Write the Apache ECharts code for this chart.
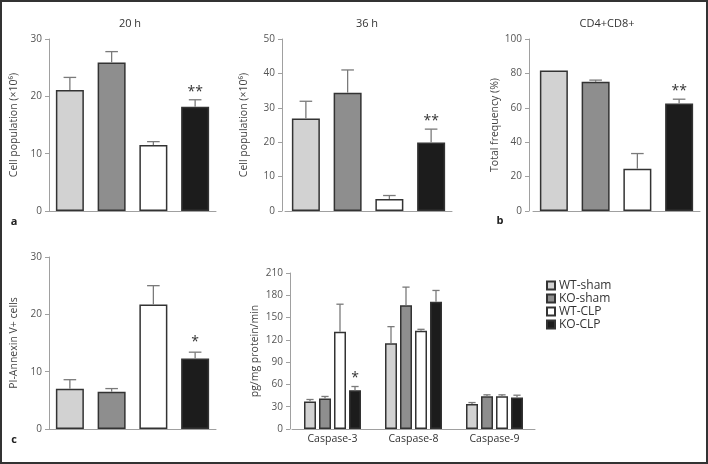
<!DOCTYPE html>
<html>
<head>
<meta charset="utf-8">
<script src="https://cdn.jsdelivr.net/npm/echarts@6/dist/echarts.min.js"></script>
<style>
html,body{margin:0;padding:0;background:#fff;}
#c{width:708px;height:464px;}
</style>
</head>
<body>
<div id="c"></div>
<script>
// ---------- data ----------
const groupNames = ['WT-sham', 'KO-sham', 'WT-CLP', 'KO-CLP'];

const pop20hMean = [21.1, 25.9, 11.5, 18.2];
const pop20hErr  = [2.2, 1.9, 0.6, 1.2];
const pop20hSig  = ['', '', '', '**'];

const pop36hMean = [26.9, 34.4, 3.5, 19.9];
const pop36hErr  = [5.0, 6.6, 1.0, 3.9];
const pop36hSig  = ['', '', '', '**'];

const cd4cd8Mean = [81.7, 75.1, 24.6, 62.5];
const cd4cd8Err  = [0, 1.0, 8.8, 2.5];
const cd4cd8Sig  = ['', '', '', '**'];

const annexinMean = [7.0, 6.5, 21.7, 12.3];
const annexinErr  = [1.6, 0.55, 3.3, 1.1];
const annexinSig  = ['', '', '', '*'];

const caspaseCats = ['Caspase-3', 'Caspase-8', 'Caspase-9'];
const caspWTshamMean = [37, 115.3, 33.8];
const caspWTshamErr  = [2.7, 22.5, 1.8];
const caspKOshamMean = [41, 166.7, 44];
const caspKOshamErr  = [2.8, 24.3, 2.0];
const caspWTclpMean  = [131, 132.2, 44];
const caspWTclpErr   = [37, 2.0, 2.0];
const caspKOclpMean  = [52.3, 171.3, 42.3];
const caspKOclpErr   = [4.9, 15.2, 3.2];
const caspKOclpSig   = ['*', '', ''];

// ---------- styles ----------
const FONT = 'Open Sans';
const groupColors = ['#d2d2d2', '#8e8e8e', '#ffffff', '#1c1c1c'];
const barBorder = '#333333';
const errColor = '#7a7a7a';
const axisColor = '#a0a0a0';

function errRender(sigs, capW, seriesOffset, sigGap) {
  return function (params, api) {
    const ci = api.value(0), m = api.value(1), e = api.value(2);
    const base = api.coord([ci, m]);
    const top = api.coord([ci, m + e]);
    const x = base[0] + seriesOffset;
    const children = [];
    if (e > 0) {
      children.push({type: 'line', shape: {x1: x, y1: base[1], x2: x, y2: top[1]},
        style: {stroke: errColor, lineWidth: 1.3}});
      children.push({type: 'line', shape: {x1: x - capW / 2, y1: top[1], x2: x + capW / 2, y2: top[1]},
        style: {stroke: errColor, lineWidth: 1.3}});
    }
    const s = sigs ? sigs[params.dataIndex] : '';
    if (s) {
      children.push({type: 'text', style: {text: s, x: x, y: top[1] - sigGap,
        align: 'center', verticalAlign: 'middle', fill: '#333', font: '14px "' + FONT + '"'}});
    }
    return {type: 'group', children: children};
  };
}

const grids = [], xAxes = [], yAxes = [], series = [];

function yAxisCfg(gi, max, interval, name, nameGap, offset) {
  return {
    type: 'value', gridIndex: gi, min: 0, max: max, interval: interval, offset: offset,
    name: name, nameLocation: 'middle', nameGap: nameGap,
    nameTextStyle: {fontFamily: FONT, fontSize: 10.5, color: '#444'},
    axisLine: {show: true, lineStyle: {color: axisColor, width: 1}},
    axisTick: {show: true, length: 4, lineStyle: {color: axisColor}},
    axisLabel: {fontFamily: FONT, fontSize: 10, color: '#555', margin: 7},
    splitLine: {show: false}
  };
}

function addSinglePanel(gridCfg, max, interval, name, nameGap, offset, means, errs, sigs, sigGap) {
  const gi = grids.length;
  grids.push(Object.assign({outerBoundsMode: 'none', containLabel: false}, gridCfg));
  xAxes.push({type: 'category', gridIndex: gi, data: groupNames,
    axisLine: {show: true, lineStyle: {color: axisColor, width: 1}},
    axisTick: {show: false}, axisLabel: {show: false}});
  yAxes.push(yAxisCfg(gi, max, interval, name, nameGap, offset));
  series.push({type: 'bar', name: 'panel' + gi, xAxisIndex: gi, yAxisIndex: gi,
    barWidth: 28, silent: true,
    data: means.map((v, i) => ({value: v, itemStyle: {color: groupColors[i]}})),
    itemStyle: {borderColor: barBorder, borderWidth: 1.5}});
  series.push({type: 'custom', xAxisIndex: gi, yAxisIndex: gi, silent: true, z: 3,
    renderItem: errRender(sigs, 12.6, 0, sigGap),
    data: means.map((v, i) => [i, v, errs[i]])});
}

addSinglePanel({left: 49, top: 39, width: 167, height: 172}, 30, 10,
  'Cell population (×10⁶)', 29, 0, pop20hMean, pop20hErr, pop20hSig, 8);
addSinglePanel({left: 285, top: 39, width: 167, height: 172}, 50, 10,
  'Cell population (×10⁶)', 32, 3, pop36hMean, pop36hErr, pop36hSig, 8);
addSinglePanel({left: 533, top: 39, width: 167, height: 172}, 100, 20,
  'Total frequency (%)', 27, 4, cd4cd8Mean, cd4cd8Err, cd4cd8Sig, 8);
addSinglePanel({left: 49, top: 257, width: 167, height: 172}, 30, 10,
  'PI-Annexin V+ cells', 29, 0, annexinMean, annexinErr, annexinSig, 10);

// caspase panel
const cgi = grids.length;
grids.push({left: 292, top: 273, width: 243, height: 156, outerBoundsMode: 'none', containLabel: false});
xAxes.push({type: 'category', gridIndex: cgi, data: caspaseCats,
  axisLine: {show: true, lineStyle: {color: axisColor, width: 1}},
  axisTick: {show: false},
  axisLabel: {fontFamily: FONT, fontSize: 10.5, color: '#333', margin: 5}});
yAxes.push(yAxisCfg(cgi, 210, 30, 'pg/mg protein/min', 29, 2));
const caspMeans = [caspWTshamMean, caspKOshamMean, caspWTclpMean, caspKOclpMean];
const caspErrs = [caspWTshamErr, caspKOshamErr, caspWTclpErr, caspKOclpErr];
const caspSigs = [null, null, null, caspKOclpSig];
const cBarW = 12, cPitch = 15;
groupNames.forEach((g, k) => {
  series.push({type: 'bar', name: g, xAxisIndex: cgi, yAxisIndex: cgi,
    barWidth: cBarW, barGap: '25%', barCategoryGap: '29%',
    itemStyle: {color: groupColors[k], borderColor: barBorder, borderWidth: 1.5},
    data: caspMeans[k]});
});
groupNames.forEach((g, k) => {
  series.push({type: 'custom', xAxisIndex: cgi, yAxisIndex: cgi, silent: true, z: 3,
    renderItem: errRender(caspSigs[k], 7.2, (k - 1.5) * cPitch, 8),
    data: caspMeans[k].map((v, i) => [i, v, caspErrs[k][i]])});
});

const titleStyle = {fill: '#333', font: '11px "' + FONT + '"', align: 'center', verticalAlign: 'middle'};
const letterStyle = {fill: '#222', font: 'bold 11px "' + FONT + '"', align: 'center', verticalAlign: 'middle'};

const option = {
  animation: false,
  backgroundColor: '#fff',
  grid: grids, xAxis: xAxes, yAxis: yAxes, series: series,
  legend: {
    data: groupNames, orient: 'vertical', left: 541, top: 274,
    itemWidth: 8, itemHeight: 8, itemGap: 0, icon: 'rect',
    textStyle: {fontFamily: FONT, fontSize: 12, lineHeight: 13, color: '#333', padding: [0, 0, 0, -1]},
    selectedMode: false
  },
  graphic: [
    {type: 'rect', shape: {x: 1, y: 1, width: 706, height: 462}, style: {fill: 'none', stroke: '#333', lineWidth: 2}, silent: true},
    {type: 'text', x: 130, y: 24, style: Object.assign({text: '20 h'}, titleStyle)},
    {type: 'text', x: 367, y: 24, style: Object.assign({text: '36 h'}, titleStyle)},
    {type: 'text', x: 607, y: 24, style: Object.assign({text: 'CD4+CD8+'}, titleStyle)},
    {type: 'text', x: 14, y: 222, style: Object.assign({text: 'a'}, letterStyle)},
    {type: 'text', x: 500, y: 221, style: Object.assign({text: 'b'}, letterStyle)},
    {type: 'text', x: 14, y: 440, style: Object.assign({text: 'c'}, letterStyle)}
  ]
};

const chart = echarts.init(document.getElementById('c'), null, {renderer: 'canvas'});
chart.setOption(option);
</script>
</body>
</html>
